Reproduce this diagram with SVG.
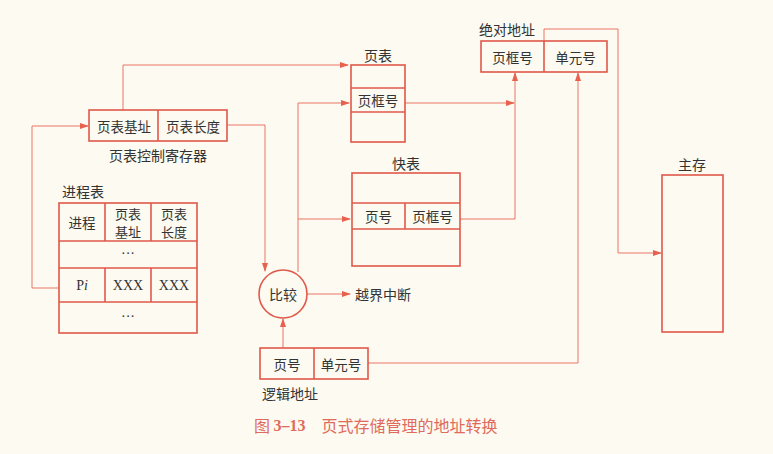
<svg xmlns="http://www.w3.org/2000/svg" width="773" height="454" viewBox="0 0 773 454">
<style>
.bx{fill:none;stroke:#e0584a;stroke-width:1.6}
.ln{fill:none;stroke:#ea7566;stroke-width:1}
.t{font-family:"Noto Sans CJK SC","Liberation Sans",sans-serif;font-size:13.5px;fill:#333;text-anchor:middle;dominant-baseline:central}
.t2{font-family:"Noto Sans CJK SC","Liberation Sans",sans-serif;font-size:13px;fill:#333;text-anchor:middle;dominant-baseline:central}
.lb{font-family:"Noto Sans CJK SC","Liberation Sans",sans-serif;font-size:14px;fill:#333;dominant-baseline:central}
.s{font-family:"Liberation Serif",serif;font-size:14px;fill:#333;text-anchor:middle;dominant-baseline:central}
.cap{font-family:"Noto Sans CJK SC","Liberation Sans",sans-serif;font-size:16px;fill:#e06a5c;dominant-baseline:central}
</style>
<defs>
<marker id="a" markerUnits="userSpaceOnUse" markerWidth="9" markerHeight="6" refX="8" refY="3" orient="auto"><path d="M0,0 L9,3 L0,6 z" fill="#e8604e"/></marker>
</defs>
<rect width="773" height="454" fill="#fcfaf1"/>
<g id="connectors">
<polyline class="ln" points="123,110 123,65 348,65" marker-end="url(#a)"/>
<polyline class="ln" points="227,125 265,125 265,271" marker-end="url(#a)"/>
<polyline class="ln" points="298,272 298,103 349,103" marker-end="url(#a)"/>
<polyline class="ln" points="298,219 350,219" marker-end="url(#a)"/>
<polyline class="ln" points="405,103 514,103" marker-end="url(#a)"/>
<polyline class="ln" points="460,219 515,219 515,73" marker-end="url(#a)"/>
<polyline class="ln" points="368,363 578,363 578,73" marker-end="url(#a)"/>
<polyline class="ln" points="283,348 283,319" marker-end="url(#a)"/>
<polyline class="ln" points="307,294 350,294" marker-end="url(#a)"/>
<polyline class="ln" points="544,41 544,29 618,29 618,253 661,253" marker-end="url(#a)"/>
<polyline class="ln" points="59,288 32,288 32,126 88,126" marker-end="url(#a)"/>
</g>
<g id="ptreg">
<rect class="bx" x="89" y="110" width="138" height="31"/>
<line class="bx" x1="158" y1="110" x2="158" y2="141"/>
<text class="t" x="124" y="125.5">页表基址</text>
<text class="t" x="193" y="125.5">页表长度</text>
<text class="lb" x="158" y="155" text-anchor="middle">页表控制寄存器</text>
</g>
<g id="proctable">
<text class="lb" x="62" y="191">进程表</text>
<rect class="bx" x="59" y="203" width="138" height="130"/>
<line class="bx" x1="59" y1="241" x2="197" y2="241"/>
<line class="bx" x1="59" y1="268" x2="197" y2="268"/>
<line class="bx" x1="59" y1="302" x2="197" y2="302"/>
<line class="bx" x1="105" y1="203" x2="105" y2="241"/>
<line class="bx" x1="151" y1="203" x2="151" y2="241"/>
<line class="bx" x1="105" y1="268" x2="105" y2="302"/>
<line class="bx" x1="151" y1="268" x2="151" y2="302"/>
<text class="t" x="82" y="222">进程</text>
<text class="t2" x="128" y="213">页表</text>
<text class="t2" x="128" y="231">基址</text>
<text class="t2" x="174" y="213">页表</text>
<text class="t2" x="174" y="231">长度</text>
<text class="s" x="128" y="253">···</text>
<text class="s" x="82" y="285">P<tspan font-style="italic">i</tspan></text>
<text class="s" x="128" y="285">XXX</text>
<text class="s" x="174" y="285">XXX</text>
<text class="s" x="128" y="316">···</text>
</g>
<g id="pagetable">
<text class="lb" x="378" y="55" text-anchor="middle">页表</text>
<rect class="bx" x="351" y="65" width="54" height="77"/>
<line class="bx" x1="351" y1="88" x2="405" y2="88"/>
<line class="bx" x1="351" y1="112" x2="405" y2="112"/>
<text class="t" x="378" y="100">页框号</text>
</g>
<g id="tlb">
<text class="lb" x="406" y="163" text-anchor="middle">快表</text>
<rect class="bx" x="352" y="173" width="108" height="93"/>
<line class="bx" x1="352" y1="203" x2="460" y2="203"/>
<line class="bx" x1="352" y1="229" x2="460" y2="229"/>
<line class="bx" x1="405" y1="203" x2="405" y2="229"/>
<text class="t" x="378.5" y="216">页号</text>
<text class="t" x="432.5" y="216">页框号</text>
</g>
<g id="absaddr">
<text class="lb" x="507" y="29" text-anchor="middle">绝对地址</text>
<rect class="bx" x="481" y="41" width="126" height="31"/>
<line class="bx" x1="544" y1="41" x2="544" y2="72"/>
<text class="t" x="512.5" y="56.5">页框号</text>
<text class="t" x="575.5" y="56.5">单元号</text>
</g>
<g id="memory">
<text class="lb" x="692" y="164" text-anchor="middle">主存</text>
<rect class="bx" x="662" y="175" width="61" height="157"/>
</g>
<g id="compare">
<circle class="bx" cx="283" cy="294" r="24"/>
<text class="lb" x="283" y="294" text-anchor="middle">比较</text>
</g>
<g id="overflow">
<text class="lb" x="355" y="294">越界中断</text>
</g>
<g id="logaddr">
<rect class="bx" x="260" y="348" width="108" height="31"/>
<line class="bx" x1="314" y1="348" x2="314" y2="379"/>
<text class="t" x="287" y="363.5">页号</text>
<text class="t" x="341" y="363.5">单元号</text>
<text class="lb" x="262" y="393">逻辑地址</text>
</g>
<text class="cap" x="254" y="425">图 <tspan font-family="Liberation Serif,serif" font-weight="bold">3–13</tspan>　页式存储管理的地址转换</text>
</svg>
